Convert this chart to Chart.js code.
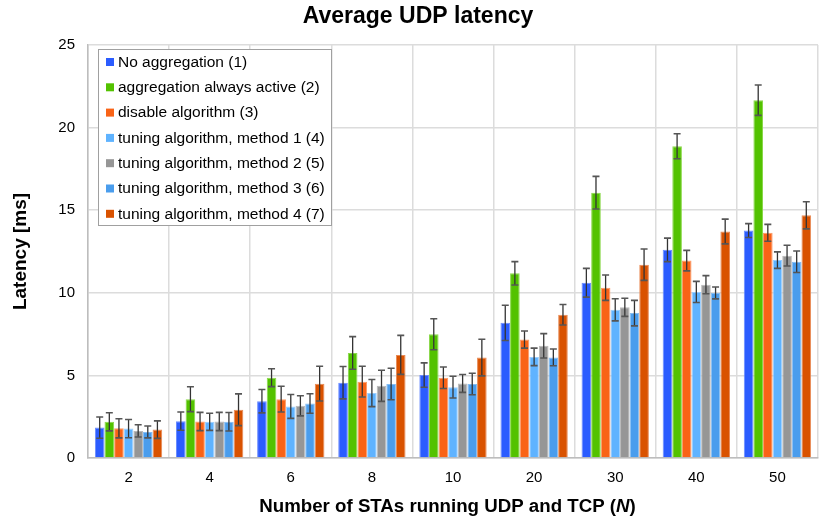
<!DOCTYPE html>
<html>
<head>
<meta charset="utf-8">
<script src="https://cdn.jsdelivr.net/npm/chart.js@4.4.1/dist/chart.umd.min.js"></script>
<style>
html,body{margin:0;padding:0;background:#fff;}
#wrap{width:831px;height:521px;position:relative;}
</style>
</head>
<body>
<div id="wrap"><canvas id="c" width="831" height="521"></canvas></div>
<script>
const categories = ['2','4','6','8','10','20','30','40','50'];
const seriesNames = [
  'No aggregation (1)',
  'aggregation always active (2)',
  'disable algorithm (3)',
  'tuning algorithm, method 1 (4)',
  'tuning algorithm, method 2 (5)',
  'tuning algorithm, method 3 (6)',
  'tuning algorithm, method 4 (7)'
];
const noAggregation   = [1.84, 2.23, 3.44, 4.56, 5.02, 8.18, 10.61, 12.60, 13.77];
const alwaysActive    = [2.19, 3.56, 4.86, 6.36, 7.49, 11.18, 16.06, 18.87, 21.66];
const disableAlg      = [1.80, 2.21, 3.56, 4.62, 4.86, 7.17, 10.31, 11.95, 13.63];
const tuningM1        = [1.78, 2.19, 3.12, 3.93, 4.29, 6.12, 8.97, 10.05, 11.98];
const tuningM2        = [1.64, 2.21, 3.16, 4.37, 4.51, 6.79, 9.12, 10.49, 12.25];
const tuningM3        = [1.58, 2.19, 3.30, 4.48, 4.48, 6.09, 8.77, 9.99, 11.88];
const tuningM4        = [1.72, 2.92, 4.50, 6.24, 6.08, 8.67, 11.70, 13.71, 14.69];

const errNoAggregation = [0.64, 0.55, 0.71, 0.98, 0.74, 1.07, 0.87, 0.71, 0.42];
const errAlwaysActive  = [0.55, 0.75, 0.54, 0.99, 0.94, 0.71, 0.99, 0.76, 0.92];
const errDisableAlg    = [0.58, 0.55, 0.78, 0.93, 0.65, 0.52, 0.77, 0.62, 0.51];
const errTuningM1      = [0.55, 0.52, 0.72, 0.82, 0.66, 0.53, 0.67, 0.64, 0.50];
const errTuningM2      = [0.37, 0.55, 0.61, 0.94, 0.54, 0.74, 0.55, 0.55, 0.63];
const errTuningM3      = [0.36, 0.56, 0.59, 0.95, 0.65, 0.51, 0.77, 0.36, 0.65];
const errTuningM4      = [0.53, 0.96, 1.05, 1.18, 1.11, 0.62, 0.95, 0.75, 0.82];

const yTicks = [0, 5, 10, 15, 20, 25];
const xTitleParts = ['Number of STAs running UDP and TCP (', 'N', ')'];
const yTitleText = 'Latency [ms]';

const values = [noAggregation, alwaysActive, disableAlg, tuningM1, tuningM2, tuningM3, tuningM4];
const errors = [errNoAggregation, errAlwaysActive, errDisableAlg, errTuningM1, errTuningM2, errTuningM3, errTuningM4];
const fills   = ['#2b5cff', '#53c200', '#f96316', '#5fb3ff', '#969696', '#4a9ded', '#d95200'];
const borders = ['#6a8cff', '#8ad84a', '#fb9a66', '#9ccfff', '#b9b9b9', '#86bdf2', '#e88a55'];

const FONT = '"Liberation Sans", Arial, sans-serif';

const errorBarPlugin = {
  id: 'errorBars',
  afterDatasetsDraw(chart) {
    const ctx = chart.ctx;
    const y = chart.scales.y;
    ctx.save();
    chart.data.datasets.forEach((ds, di) => {
      const meta = chart.getDatasetMeta(di);
      meta.data.forEach((bar, i) => {
        const v = ds.data[i], e = errors[di][i];
        const yTop = y.getPixelForValue(v + e);
        const yBot = y.getPixelForValue(v - e);
        const x = bar.x;
        ctx.strokeStyle = '#333';
        ctx.lineWidth = 1.3;
        ctx.beginPath();
        ctx.moveTo(x, yTop); ctx.lineTo(x, yBot);
        ctx.stroke();
        ctx.strokeStyle = '#555';
        ctx.lineWidth = 1.6;
        ctx.beginPath();
        ctx.moveTo(x - 3.5, yTop); ctx.lineTo(x + 3.5, yTop);
        ctx.moveTo(x - 3.5, yBot); ctx.lineTo(x + 3.5, yBot);
        ctx.stroke();
      });
    });
    ctx.restore();
  }
};

const boxLegendPlugin = {
  id: 'boxLegend',
  afterDraw(chart) {
    const ctx = chart.ctx;
    const left = 98.5, top = 49.5, w = 233, h = 176;
    ctx.save();
    ctx.fillStyle = '#fff';
    ctx.fillRect(left, top, w, h);
    ctx.strokeStyle = '#a0a0a0';
    ctx.lineWidth = 1;
    ctx.strokeRect(left, top, w, h);
    ctx.font = '15.5px ' + FONT;
    ctx.textBaseline = 'middle';
    chart.data.datasets.forEach((ds, i) => {
      const cy = 62 + i * 25.3;
      ctx.fillStyle = fills[i];
      ctx.fillRect(106, cy - 4, 8, 8);
      ctx.fillStyle = '#000';
      ctx.fillText(ds.label, 118, cy + 0.5);
    });
    ctx.restore();
  }
};

const axisTitlePlugin = {
  id: 'axisTitles',
  afterDraw(chart) {
    const ctx = chart.ctx;
    const area = chart.chartArea;
    ctx.save();
    ctx.fillStyle = '#000';
    ctx.textBaseline = 'middle';
    // x title with italic N
    const fonts = ['bold 18.7px ' + FONT, 'italic bold 18.7px ' + FONT, 'bold 18.7px ' + FONT];
    const widths = xTitleParts.map((t, i) => { ctx.font = fonts[i]; return ctx.measureText(t).width; });
    const total = widths.reduce((a, b) => a + b, 0);
    let x = 447.5 - total / 2;
    xTitleParts.forEach((t, i) => {
      ctx.font = fonts[i];
      ctx.fillText(t, x, 507);
      x += widths[i];
    });
    // y title
    ctx.translate(21, (area.top + area.bottom) / 2);
    ctx.rotate(-Math.PI / 2);
    ctx.textAlign = 'center';
    ctx.font = 'bold 19px ' + FONT;
    ctx.fillText(yTitleText, 0, 0);
    ctx.restore();
  }
};

new Chart(document.getElementById('c'), {
  type: 'bar',
  data: {
    labels: categories,
    datasets: values.map((d, i) => ({
      label: seriesNames[i],
      data: d,
      backgroundColor: fills[i],
      borderColor: borders[i],
      borderWidth: 1,
      barPercentage: 1.0,
      categoryPercentage: 0.83
    }))
  },
  plugins: [errorBarPlugin, boxLegendPlugin, axisTitlePlugin],
  options: {
    responsive: false,
    animation: false,
    devicePixelRatio: 1,
    layout: { padding: { left: 18, right: 13, top: 0, bottom: 0 } },
    plugins: {
      legend: { display: false },
      tooltip: { enabled: false },
      title: {
        display: true,
        text: 'Average UDP latency',
        font: { family: FONT, size: 23, weight: 'bold' },
        color: '#000',
        padding: { top: 3, bottom: 14.4 }
      }
    },
    scales: {
      x: {
        afterFit(scale) { scale.height = 63; },
        grid: { offset: true, color: '#dcdcdc', lineWidth: 1.5, drawTicks: false },
        border: { color: '#bdbdbd', width: 1.5 },
        ticks: { font: { family: FONT, size: 15 }, color: '#000', padding: 11 },
        title: { display: false }
      },
      y: {
        min: 0, max: 25,
        afterFit(scale) { scale.width = 70; },
        afterBuildTicks(scale) { scale.ticks = yTicks.map(v => ({ value: v })); },
        grid: { color: '#dcdcdc', lineWidth: 1.5, drawTicks: false },
        border: { color: '#bdbdbd', width: 1.5 },
        ticks: { font: { family: FONT, size: 15 }, color: '#000', padding: 13 },
        title: { display: false }
      }
    }
  }
});
</script>
</body>
</html>
